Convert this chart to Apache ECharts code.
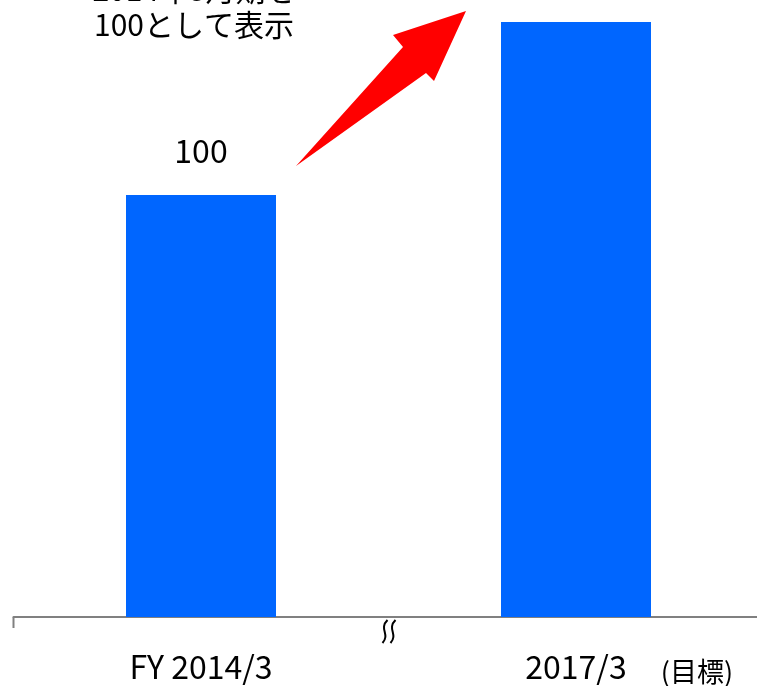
<!DOCTYPE html>
<html><head><meta charset="utf-8">
<script src="https://cdn.jsdelivr.net/npm/echarts@6/dist/echarts.min.js"></script>
<style>html,body{margin:0;padding:0;background:#fff}#c{width:757px;height:686px}</style>
</head><body><div id="c"></div>
<script>
var categories = ['FY 2014/3', '2017/3'];
var values = [100, 141];
var valueLabels = ['100', ''];
var noteLines = ['2014年3月期を', '100として表示'];
var targetNote = '(目標)';

var FONT = '"Noto Sans CJK JP", "Noto Sans", sans-serif';
var chart = echarts.init(document.getElementById('c'));
chart.setOption({
  animation: false,
  grid: { left: 13.5, width: 750, top: 5, bottom: 69, outerBoundsMode: 'none', containLabel: false },
  xAxis: {
    type: 'category', data: categories,
    axisLine: { lineStyle: { color: '#808080', width: 2 } },
    axisTick: { show: false },
    axisLabel: { color: '#000', fontSize: 32, margin: 34, fontFamily: FONT }
  },
  yAxis: { type: 'value', min: 0, max: 145, show: false, splitLine: { show: false } },
  series: [{
    type: 'bar', barWidth: 150,
    itemStyle: { color: '#0066FF' },
    data: values.map(function (v, i) { return { value: v, label: { show: valueLabels[i] !== '', formatter: valueLabels[i] } }; }),
    label: { position: 'top', distance: 28, color: '#000', fontSize: 32, fontFamily: FONT }
  }]
});

function px(ci, v) { return chart.convertToPixel({ gridIndex: 0 }, [ci, v]); }
var base0 = px(0, 0), base1 = px(1, 0);
var axisY = base0[1];
var midX = (base0[0] + base1[0]) / 2;
var leftEdge = base0[0] - (base1[0] - base0[0]) / 2;

chart.setOption({
  graphic: [
    { type: 'line', shape: { x1: leftEdge, y1: axisY, x2: leftEdge, y2: axisY + 11 }, style: { stroke: '#808080', lineWidth: 2 } },
    { type: 'rect', shape: { x: midX - 13, y: axisY - 3, width: 24, height: 6 }, style: { fill: '#fff' } },
    { type: 'bezierCurve', shape: { x1: midX - 1, y1: axisY + 3, cpx1: midX - 10, cpy1: axisY + 12, cpx2: midX + 2, cpy2: axisY + 17, x2: midX - 6, y2: axisY + 26 }, style: { stroke: '#000', lineWidth: 2, fill: null } },
    { type: 'bezierCurve', shape: { x1: midX + 7, y1: axisY + 3, cpx1: midX - 2, cpy1: axisY + 12, cpx2: midX + 10, cpy2: axisY + 17, x2: midX + 2, y2: axisY + 26 }, style: { stroke: '#000', lineWidth: 2, fill: null } },
    { type: 'text', x: base1[0] + 121, y: axisY + 55, style: { text: targetNote, fill: '#000', font: '27px ' + FONT, textAlign: 'center', textVerticalAlign: 'middle' } },
    { type: 'text', x: 194, y: -10, style: { text: noteLines[0], fill: '#000', font: '30px ' + FONT, textAlign: 'center', textVerticalAlign: 'middle' } },
    { type: 'text', x: 194, y: 25, style: { text: noteLines[1], fill: '#000', font: '30px ' + FONT, textAlign: 'center', textVerticalAlign: 'middle' } },
    { type: 'polygon', shape: { points: [[296, 166], [403, 47], [393, 35], [466, 11], [434, 81], [426, 73]] }, style: { fill: '#FF0000' } }
  ]
});
</script></body></html>
